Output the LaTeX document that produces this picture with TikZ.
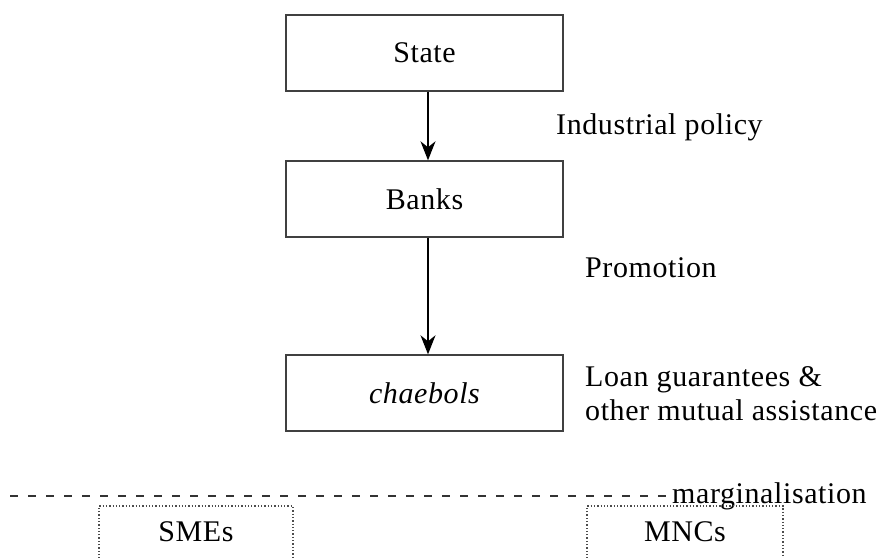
\documentclass[tikz,border=0pt]{standalone}
\usepackage{fontspec}
\setmainfont{Liberation Serif}[LetterSpace=2]
\usetikzlibrary{arrows.meta}
\begin{document}
\begin{tikzpicture}[x=1pt,y=-1pt,
  box/.style={draw=black!75,line width=1.4pt,minimum width=277pt,minimum height=76pt,inner sep=0pt,font=\fontsize{30}{35}\selectfont},
  dotbox/.style={draw=black!70,line width=1.3pt,dotted,inner sep=0pt},
  lbl/.style={anchor=west,inner sep=0pt,font=\fontsize{30}{35}\selectfont},
  conn/.style={line width=1.3pt,-{Stealth[length=19pt,width=15pt,inset=6pt]}}]
\useasboundingbox (0,0) rectangle (882,557);
\node[box] (state) at (424.5,53) {State};
\node[box] (banks) at (424.5,199) {Banks};
\node[box] (chaebols) at (424.5,393) {\itshape chaebols};
\draw[conn] (state.south -| 428,0) -- (banks.north -| 428,0);
\draw[conn] (banks.south -| 428,0) -- (chaebols.north -| 428,0);
\node[lbl] (ip) at (556,127) {Industrial policy};
\node[lbl] (promo) at (585,268) {Promotion};
\node[lbl,align=left] (loan) at (585,394) {Loan guarantees \&\\[-1pt]other mutual assistance};
\node[lbl] (marg) at (672,496) {marginalisation};
\coordinate (dstart) at (10,496);
\draw[line width=2pt,black!80,dash pattern=on 8pt off 10pt] (dstart) -- ([xshift=-4pt]marg.west);
\draw[dotbox] (99,575) |- (293,506) -- (293,575);
\draw[dotbox] (587,575) |- (783,506) -- (783,575);
\node[lbl,anchor=center] (smes) at (196,532) {SMEs};
\node[lbl,anchor=center] (mncs) at (685,532) {MNCs};
\end{tikzpicture}
\end{document}
